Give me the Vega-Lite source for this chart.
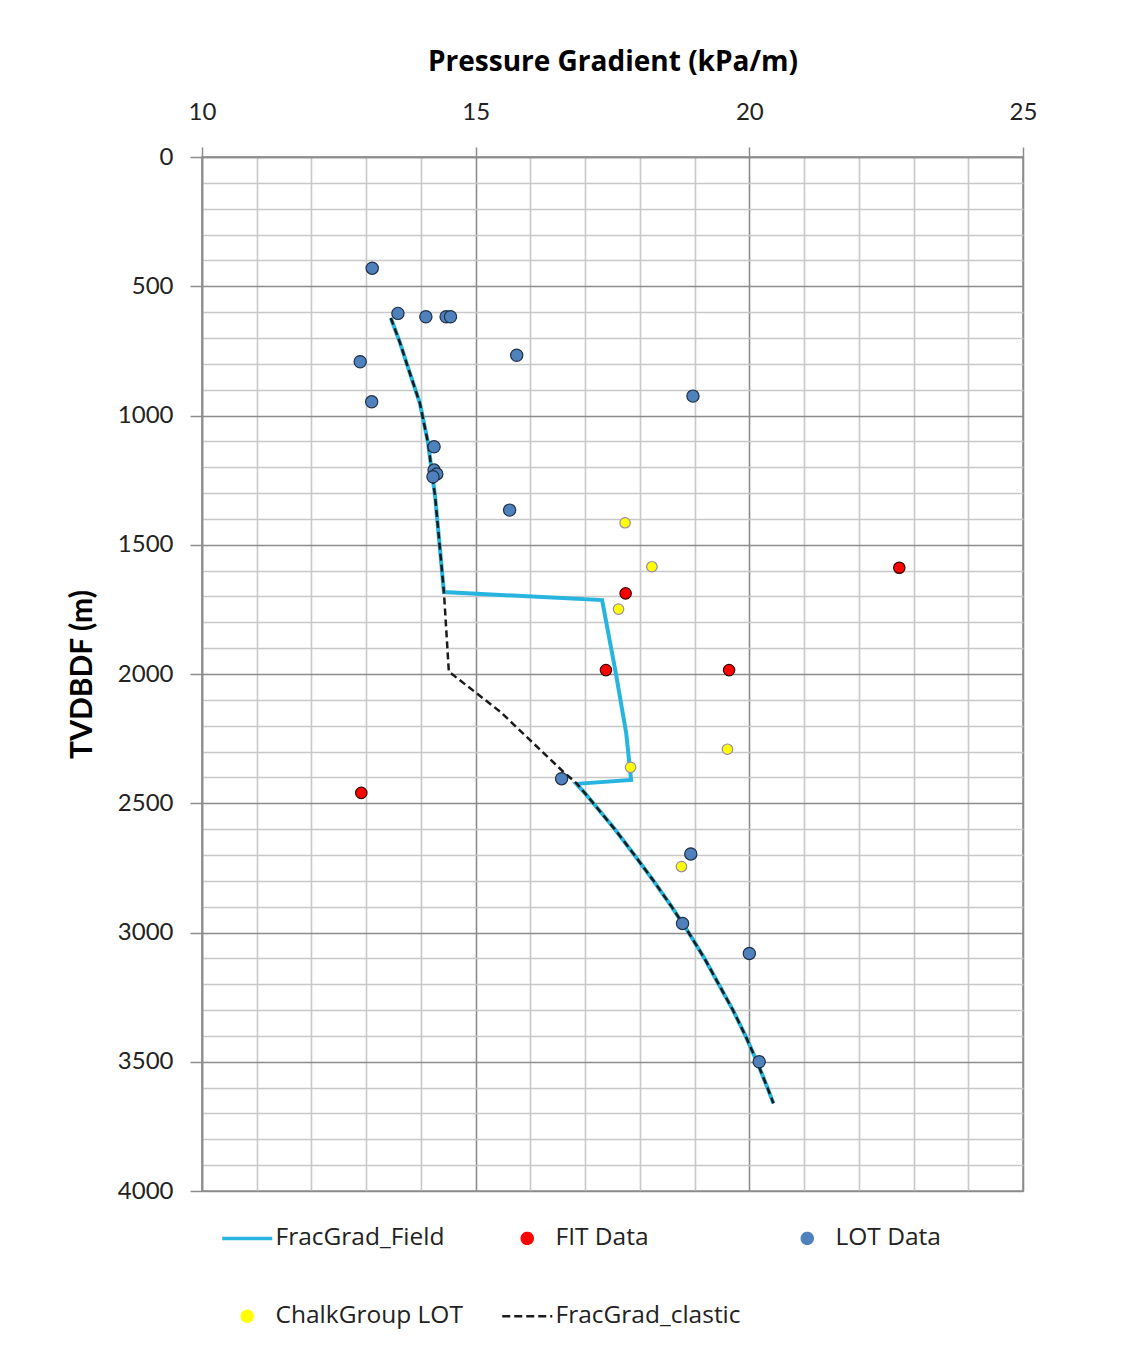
{
  "$schema": "https://vega.github.io/schema/vega-lite/v6.json",
  "width": 821,
  "height": 1034,
  "autosize": {"type": "none"},
  "padding": {"left": 202, "top": 157, "right": 108, "bottom": 157},
  "background": "white",
  "config": {
    "font": "Lato",
    "view": {"stroke": "#8c8c8c", "strokeWidth": 1.5},
    "axis": {"domainColor": "#8c8c8c", "domainWidth": 1.5, "labelColor": "#222222", "titleColor": "#000000", "labelFont": "Lato"}
  },
  "datasets": {
    "lines": [
      {"series": "FracGrad_Field", "idx": 1, "grad": 13.45, "depth": 623},
      {"series": "FracGrad_Field", "idx": 2, "grad": 13.62, "depth": 720},
      {"series": "FracGrad_Field", "idx": 3, "grad": 13.76, "depth": 812},
      {"series": "FracGrad_Field", "idx": 4, "grad": 13.98, "depth": 952},
      {"series": "FracGrad_Field", "idx": 5, "grad": 14.13, "depth": 1106},
      {"series": "FracGrad_Field", "idx": 6, "grad": 14.26, "depth": 1315},
      {"series": "FracGrad_Field", "idx": 7, "grad": 14.42, "depth": 1683},
      {"series": "FracGrad_Field", "idx": 8, "grad": 17.31, "depth": 1714},
      {"series": "FracGrad_Field", "idx": 9, "grad": 17.56, "depth": 1996},
      {"series": "FracGrad_Field", "idx": 10, "grad": 17.75, "depth": 2228},
      {"series": "FracGrad_Field", "idx": 11, "grad": 17.84, "depth": 2410},
      {"series": "FracGrad_Field", "idx": 12, "grad": 16.84, "depth": 2425},
      {"series": "FracGrad_Field", "idx": 13, "grad": 17.00, "depth": 2462},
      {"series": "FracGrad_Field", "idx": 14, "grad": 17.15, "depth": 2500},
      {"series": "FracGrad_Field", "idx": 15, "grad": 17.54, "depth": 2600},
      {"series": "FracGrad_Field", "idx": 16, "grad": 17.90, "depth": 2700},
      {"series": "FracGrad_Field", "idx": 17, "grad": 18.25, "depth": 2800},
      {"series": "FracGrad_Field", "idx": 18, "grad": 18.58, "depth": 2900},
      {"series": "FracGrad_Field", "idx": 19, "grad": 18.89, "depth": 3000},
      {"series": "FracGrad_Field", "idx": 20, "grad": 19.18, "depth": 3100},
      {"series": "FracGrad_Field", "idx": 21, "grad": 19.44, "depth": 3200},
      {"series": "FracGrad_Field", "idx": 22, "grad": 19.70, "depth": 3300},
      {"series": "FracGrad_Field", "idx": 23, "grad": 19.93, "depth": 3400},
      {"series": "FracGrad_Field", "idx": 24, "grad": 20.14, "depth": 3500},
      {"series": "FracGrad_Field", "idx": 25, "grad": 20.33, "depth": 3600},
      {"series": "FracGrad_Field", "idx": 26, "grad": 20.44, "depth": 3661},
      {"series": "FracGrad_clastic", "idx": 1, "grad": 13.45, "depth": 623},
      {"series": "FracGrad_clastic", "idx": 2, "grad": 13.62, "depth": 720},
      {"series": "FracGrad_clastic", "idx": 3, "grad": 13.76, "depth": 812},
      {"series": "FracGrad_clastic", "idx": 4, "grad": 13.98, "depth": 952},
      {"series": "FracGrad_clastic", "idx": 5, "grad": 14.13, "depth": 1106},
      {"series": "FracGrad_clastic", "idx": 6, "grad": 14.26, "depth": 1315},
      {"series": "FracGrad_clastic", "idx": 7, "grad": 14.42, "depth": 1683},
      {"series": "FracGrad_clastic", "idx": 8, "grad": 14.51, "depth": 1991},
      {"series": "FracGrad_clastic", "idx": 9, "grad": 15.02, "depth": 2075},
      {"series": "FracGrad_clastic", "idx": 10, "grad": 15.45, "depth": 2146},
      {"series": "FracGrad_clastic", "idx": 11, "grad": 15.99, "depth": 2255},
      {"series": "FracGrad_clastic", "idx": 12, "grad": 16.60, "depth": 2378},
      {"series": "FracGrad_clastic", "idx": 13, "grad": 16.84, "depth": 2422},
      {"series": "FracGrad_clastic", "idx": 14, "grad": 17.00, "depth": 2462},
      {"series": "FracGrad_clastic", "idx": 15, "grad": 17.15, "depth": 2500},
      {"series": "FracGrad_clastic", "idx": 16, "grad": 17.54, "depth": 2600},
      {"series": "FracGrad_clastic", "idx": 17, "grad": 17.90, "depth": 2700},
      {"series": "FracGrad_clastic", "idx": 18, "grad": 18.25, "depth": 2800},
      {"series": "FracGrad_clastic", "idx": 19, "grad": 18.58, "depth": 2900},
      {"series": "FracGrad_clastic", "idx": 20, "grad": 18.89, "depth": 3000},
      {"series": "FracGrad_clastic", "idx": 21, "grad": 19.18, "depth": 3100},
      {"series": "FracGrad_clastic", "idx": 22, "grad": 19.44, "depth": 3200},
      {"series": "FracGrad_clastic", "idx": 23, "grad": 19.70, "depth": 3300},
      {"series": "FracGrad_clastic", "idx": 24, "grad": 19.93, "depth": 3400},
      {"series": "FracGrad_clastic", "idx": 25, "grad": 20.14, "depth": 3500},
      {"series": "FracGrad_clastic", "idx": 26, "grad": 20.33, "depth": 3600},
      {"series": "FracGrad_clastic", "idx": 27, "grad": 20.44, "depth": 3661}
    ],
    "points": [
      {"series": "LOT Data", "grad": 13.11, "depth": 430},
      {"series": "LOT Data", "grad": 13.58, "depth": 605},
      {"series": "LOT Data", "grad": 14.09, "depth": 618},
      {"series": "LOT Data", "grad": 14.46, "depth": 618},
      {"series": "LOT Data", "grad": 14.54, "depth": 618},
      {"series": "LOT Data", "grad": 15.75, "depth": 767},
      {"series": "LOT Data", "grad": 12.89, "depth": 792},
      {"series": "LOT Data", "grad": 13.10, "depth": 947},
      {"series": "LOT Data", "grad": 18.97, "depth": 925},
      {"series": "LOT Data", "grad": 14.24, "depth": 1121},
      {"series": "LOT Data", "grad": 14.24, "depth": 1211},
      {"series": "LOT Data", "grad": 14.29, "depth": 1226},
      {"series": "LOT Data", "grad": 14.22, "depth": 1237},
      {"series": "LOT Data", "grad": 15.62, "depth": 1366},
      {"series": "LOT Data", "grad": 16.57, "depth": 2405},
      {"series": "LOT Data", "grad": 18.93, "depth": 2696},
      {"series": "LOT Data", "grad": 18.78, "depth": 2965},
      {"series": "LOT Data", "grad": 20.00, "depth": 3081},
      {"series": "LOT Data", "grad": 20.18, "depth": 3500},
      {"series": "FIT Data", "grad": 22.74, "depth": 1589},
      {"series": "FIT Data", "grad": 17.74, "depth": 1688},
      {"series": "FIT Data", "grad": 17.38, "depth": 1985},
      {"series": "FIT Data", "grad": 19.63, "depth": 1985},
      {"series": "FIT Data", "grad": 12.91, "depth": 2460},
      {"series": "ChalkGroup LOT", "grad": 17.73, "depth": 1415},
      {"series": "ChalkGroup LOT", "grad": 18.22, "depth": 1585},
      {"series": "ChalkGroup LOT", "grad": 17.61, "depth": 1749},
      {"series": "ChalkGroup LOT", "grad": 19.60, "depth": 2291},
      {"series": "ChalkGroup LOT", "grad": 17.83, "depth": 2361},
      {"series": "ChalkGroup LOT", "grad": 18.76, "depth": 2745}
    ]
  },
  "encoding": {
    "x": {
      "field": "grad", "type": "quantitative",
      "scale": {"domain": [10, 25], "nice": false, "zero": false},
      "axis": {
        "orient": "top",
        "values": [10, 11, 12, 13, 14, 15, 16, 17, 18, 19, 20, 21, 22, 23, 24, 25],
        "labelExpr": "datum.value % 5 === 0 ? datum.label : ''",
        "format": "d",
        "labelFontSize": 24,
        "labelPadding": 23,
        "labelOverlap": false,
        "labelFlush": false,
        "tickSize": 10,
        "tickWidth": 1.5,
        "tickColor": {"condition": {"test": "datum.value % 5 !== 0", "value": "transparent"}, "value": "#8c8c8c"},
        "gridColor": {"condition": {"test": "datum.value % 5 === 0", "value": "#8c8c8c"}, "value": "#c8c8c8"},
        "gridWidth": 1.6,
        "title": "Pressure Gradient (kPa/m)",
        "titleFont": "Open Sans",
        "titleFontSize": 28,
        "titleFontWeight": "bold",
        "titlePadding": 24
      }
    },
    "y": {
      "field": "depth", "type": "quantitative",
      "scale": {"domain": [0, 4000], "reverse": true, "nice": false, "zero": false},
      "axis": {
        "values": [0, 100, 200, 300, 400, 500, 600, 700, 800, 900, 1000, 1100, 1200, 1300, 1400, 1500, 1600, 1700, 1800, 1900, 2000, 2100, 2200, 2300, 2400, 2500, 2600, 2700, 2800, 2900, 3000, 3100, 3200, 3300, 3400, 3500, 3600, 3700, 3800, 3900, 4000],
        "labelExpr": "datum.value % 500 === 0 ? datum.label : ''",
        "format": "d",
        "labelFontSize": 24,
        "labelPadding": 17,
        "labelOverlap": false,
        "labelFlush": false,
        "tickSize": 12,
        "tickWidth": 1.5,
        "tickColor": {"condition": {"test": "datum.value % 500 !== 0", "value": "transparent"}, "value": "#8c8c8c"},
        "gridColor": {"condition": {"test": "datum.value % 500 === 0", "value": "#8c8c8c"}, "value": "#c8c8c8"},
        "gridWidth": 1.6,
        "title": "TVDBDF (m)",
        "titleFont": "Lato",
        "titleFontSize": 30,
        "titleFontWeight": "bold",
        "titlePadding": 20
      }
    }
  },
  "layer": [
    {
      "data": {"name": "lines"},
      "transform": [{"filter": "datum.series === 'FracGrad_Field'"}],
      "mark": {"type": "line", "strokeWidth": 4, "strokeJoin": "miter", "clip": true},
      "encoding": {
        "order": {"field": "idx", "type": "quantitative"},
        "color": {
          "field": "series", "type": "nominal",
          "scale": {
            "domain": ["FracGrad_Field", "FIT Data", "LOT Data", "ChalkGroup LOT", "FracGrad_clastic"],
            "range": ["#27B5E0", "#FF0000", "#4F81BD", "#FFFF00", "#1a1a1a"]
          },
          "legend": {
            "title": null,
            "orient": "none",
            "direction": "horizontal",
            "legendX": 33,
            "legendY": 1069,
            "columns": 3,
            "gridAlign": "all",
            "columnPadding": 34,
            "rowPadding": 53,
            "padding": 0,
            "symbolSize": 2500,
            "labelFont": "Open Sans",
            "labelFontSize": 24.5,
            "labelColor": "#222222",
            "labelOffset": 16,
            "labelLimit": 400,
            "encode": {
              "symbols": {
                "update": {
                  "shape": {"signal": "(datum.value === 'FracGrad_Field' || datum.value === 'FracGrad_clastic') ? 'stroke' : 'circle'"},
                  "size": {"signal": "(datum.value === 'FracGrad_Field' || datum.value === 'FracGrad_clastic') ? 2500 : 150"},
                  "fill": {"signal": "(datum.value === 'FracGrad_Field' || datum.value === 'FracGrad_clastic') ? 'transparent' : scale('color', datum.value)"},
                  "stroke": {"signal": "datum.value === 'FracGrad_Field' ? '#27B5E0' : datum.value === 'FracGrad_clastic' ? '#1a1a1a' : datum.value === 'ChalkGroup LOT' ? '#9a8aa8' : datum.value === 'FIT Data' ? '#3a0000' : '#1f2f45'"},
                  "strokeWidth": {"signal": "datum.value === 'FracGrad_Field' ? 3.5 : datum.value === 'FracGrad_clastic' ? 2.5 : 1.2"},
                  "strokeDash": {"signal": "datum.value === 'FracGrad_clastic' ? [8, 4] : [1, 0]"},
                  "opacity": {"value": 1}
                }
              }
            }
          }
        }
      }
    },
    {
      "data": {"name": "lines"},
      "transform": [{"filter": "datum.series === 'FracGrad_clastic'"}],
      "mark": {"type": "line", "strokeWidth": 2.5, "strokeDash": [7, 4], "clip": true},
      "encoding": {
        "order": {"field": "idx", "type": "quantitative"},
        "color": {"field": "series", "type": "nominal"}
      }
    },
    {
      "data": {"name": "points"},
      "transform": [{"filter": "datum.series === 'LOT Data'"}],
      "mark": {"type": "point", "shape": "circle", "filled": true, "opacity": 1, "size": 150, "stroke": "#1f2f45", "strokeWidth": 1.2},
      "encoding": {"color": {"field": "series", "type": "nominal"}}
    },
    {
      "data": {"name": "points"},
      "transform": [{"filter": "datum.series === 'FIT Data'"}],
      "mark": {"type": "point", "shape": "circle", "filled": true, "opacity": 1, "size": 130, "stroke": "#3a0000", "strokeWidth": 1.2},
      "encoding": {"color": {"field": "series", "type": "nominal"}}
    },
    {
      "data": {"name": "points"},
      "transform": [{"filter": "datum.series === 'ChalkGroup LOT'"}],
      "mark": {"type": "point", "shape": "circle", "filled": true, "opacity": 1, "size": 110, "stroke": "#9a8aa8", "strokeWidth": 1.2},
      "encoding": {"color": {"field": "series", "type": "nominal"}}
    }
  ]
}
